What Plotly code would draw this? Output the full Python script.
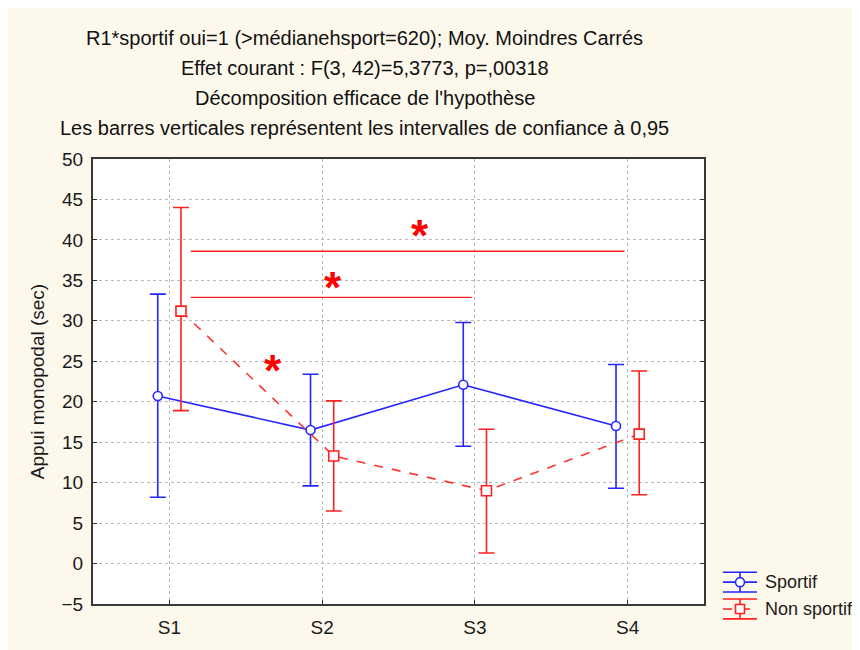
import plotly.graph_objects as go

# sessions and group means with 0.95 confidence limits
sessions = ["S1", "S2", "S3", "S4"]
session_pos = [1, 2, 3, 4]

sportif_mean = [20.7, 16.5, 22.1, 17.0]
sportif_low = [8.2, 9.6, 14.5, 9.3]
sportif_high = [33.3, 23.4, 29.8, 24.6]

nonsportif_mean = [31.2, 13.3, 9.0, 16.0]
nonsportif_low = [18.9, 6.5, 1.3, 8.5]
nonsportif_high = [44.0, 20.1, 16.6, 23.8]

# significance brackets: (x start, x end, y level)
sig_lines = [(1.14, 3.98, 38.6), (1.14, 2.98, 32.9)]
# asterisks: (x, y)
sig_stars = [(2.64, 40.6), (2.07, 34.1), (1.68, 23.9)]

title_lines = [
    "R1*sportif oui=1 (>médianehsport=620); Moy. Moindres Carrés",
    "Effet courant : F(3, 42)=5,3773, p=,00318",
    "Décomposition efficace de l'hypothèse",
    "Les barres verticales représentent les intervalles de confiance à 0,95",
]

CREAM = "#fdf8ec"
FONT = "Liberation Sans, Arial, sans-serif"
BLUE = "#2525ff"
RED = "#ff2020"
OFFSET = 0.076

fig = go.Figure()

fig.add_trace(go.Scatter(
    x=[p - OFFSET for p in session_pos], y=sportif_mean, name="Sportif",
    mode="lines+markers",
    line=dict(color=BLUE, width=1.6),
    marker=dict(symbol="circle", size=9, color="white", line=dict(width=1.6, color=BLUE)),
    error_y=dict(type="data", symmetric=False,
                 array=[h - m for h, m in zip(sportif_high, sportif_mean)],
                 arrayminus=[m - l for m, l in zip(sportif_mean, sportif_low)],
                 color=BLUE, thickness=1.6, width=8),
))

fig.add_trace(go.Scatter(
    x=[p + OFFSET for p in session_pos], y=nonsportif_mean, name="Non sportif",
    mode="lines+markers",
    line=dict(color="#ff3535", width=1.6, dash="dash"),
    marker=dict(symbol="square", size=10, color="white", line=dict(width=1.6, color=RED)),
    error_y=dict(type="data", symmetric=False,
                 array=[h - m for h, m in zip(nonsportif_high, nonsportif_mean)],
                 arrayminus=[m - l for m, l in zip(nonsportif_mean, nonsportif_low)],
                 color=RED, thickness=1.6, width=8),
))

for x0, x1, yv in sig_lines:
    fig.add_shape(type="line", x0=x0, x1=x1, y0=yv, y1=yv,
                  line=dict(color=RED, width=1.4))

for sx, sy in sig_stars:
    fig.add_annotation(x=sx, y=sy, text="<b>*</b>", showarrow=False,
                       font=dict(size=44, color="#ff0000", family="Liberation Sans"))

for i, t in enumerate(title_lines):
    fig.add_annotation(xref="paper", yref="paper", x=0.445, y=1.272 - i * 0.0675,
                       text=t, showarrow=False, xanchor="center", yanchor="middle",
                       font=dict(size=20, color="#111111", family=FONT))


# legend drawn by hand (Statistica style glyph: line + marker + error bar caps),
# so the legend sitting in the right margin doesn't push the plot area around
def legend_entry(label, color, y_mid, symbol, dash):
    gx0, gx1, gxc, gap = 1.031, 1.0867, 1.0589, 0.0223
    for yy in (y_mid + gap, y_mid - gap):
        fig.add_shape(type="line", xref="paper", yref="paper", x0=gx0, x1=gx1, y0=yy, y1=yy,
                      line=dict(color=color, width=1.6))
    fig.add_shape(type="line", xref="paper", yref="paper", x0=gxc, x1=gxc,
                  y0=y_mid - gap, y1=y_mid + gap, line=dict(color=color, width=1.6))
    fig.add_shape(type="line", xref="paper", yref="paper", x0=gx0, x1=gx1, y0=y_mid, y1=y_mid,
                  line=dict(color=color, width=1.6, dash=dash))
    fig.add_shape(type=symbol, xref="paper", yref="paper", xsizemode="pixel", ysizemode="pixel",
                  xanchor=gxc, yanchor=y_mid, x0=-4.5, x1=4.5, y0=-4.5, y1=4.5,
                  fillcolor="white", line=dict(color=color, width=1.6))
    fig.add_annotation(xref="paper", yref="paper", x=1.0965, y=y_mid, text=label,
                       showarrow=False, xanchor="left", yanchor="middle",
                       font=dict(size=18, color="#1a1a1a", family=FONT))


legend_entry("Sportif", BLUE, 0.0491, "circle", "solid")
legend_entry("Non sportif", RED, -0.0112, "rect", "dash")

fig.update_layout(
    width=852, height=642,
    margin=dict(l=85, r=156, t=151, b=43),
    paper_bgcolor=CREAM, plot_bgcolor="white",
    font=dict(family=FONT, size=19, color="#1a1a1a"),
    showlegend=False,
)

fig.update_xaxes(range=[0.5, 4.5], tickvals=session_pos, ticktext=sessions,
                 showgrid=True, gridcolor="#b8b8b8", griddash="dot", gridwidth=1,
                 ticks="inside", ticklen=4, tickcolor="#333333", ticklabelstandoff=5,
                 tickfont=dict(size=19),
                 showline=True, linecolor="#383838", linewidth=2, mirror=True,
                 zeroline=False)
fig.update_yaxes(range=[-5, 50], dtick=5,
                 title=dict(text="Appui monopodal (sec)", standoff=12, font=dict(size=19)),
                 showgrid=True, gridcolor="#b8b8b8", griddash="dot", gridwidth=1,
                 ticks="inside", ticklen=4, tickcolor="#333333", ticklabelstandoff=4,
                 tickfont=dict(size=19),
                 showline=True, linecolor="#383838", linewidth=2, mirror="allticks",
                 zeroline=False)

fig.write_html("out.html")
